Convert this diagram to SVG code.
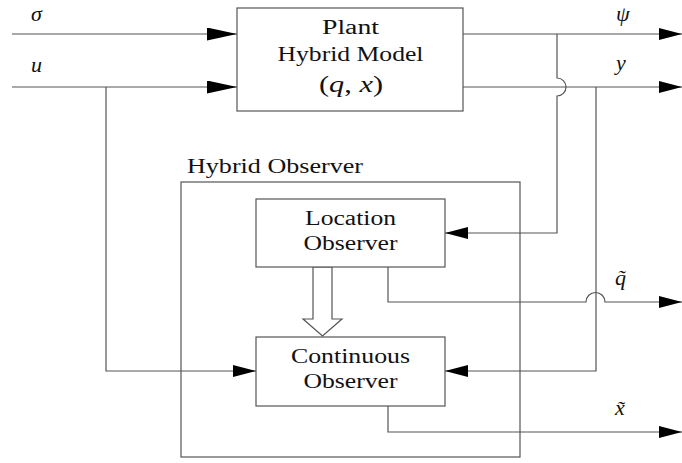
<svg xmlns="http://www.w3.org/2000/svg" width="682" height="463" viewBox="0 0 682 463">
<style>
.box{fill:#fff;stroke:#555;stroke-width:1.2}
.ln{fill:none;stroke:#555;stroke-width:1.2}
.t{font-family:"Liberation Serif","Times New Roman",serif;font-size:20px;fill:#111}
.m{font-family:"Liberation Serif","Times New Roman",serif;font-size:22px;font-style:italic;fill:#111}
</style>
<defs>
<marker id="ah" markerUnits="userSpaceOnUse" markerWidth="24" markerHeight="13" refX="23" refY="6" orient="auto">
<path d="M0,0 L23,6 L0,12 z" fill="#000"/>
</marker>
<marker id="ahb" markerUnits="userSpaceOnUse" markerWidth="31" markerHeight="14" refX="30" refY="6.5" orient="auto">
<path d="M0,0 L30,6.5 L0,13 z" fill="#000"/>
</marker>
</defs>
<rect width="682" height="463" fill="#fff"/>
<g id="connectors">
<path class="ln" d="M12,34 H237" marker-end="url(#ahb)"/>
<path class="ln" d="M12,87 H237" marker-end="url(#ahb)"/>
<path class="ln" d="M106,87 V371 H256" marker-end="url(#ah)"/>
<path class="ln" d="M463,34 H682" marker-end="url(#ah)"/>
<path class="ln" d="M463,87 H682" marker-end="url(#ah)"/>
<path class="ln" d="M557,34 V78 A9,9 0 0 1 557,96 V233 H445" marker-end="url(#ah)"/>
<path class="ln" d="M596,87 V371 H445" marker-end="url(#ah)"/>
<path class="ln" d="M388,267 V302 H586 A9.5,9.5 0 0 1 605,302 H682" marker-end="url(#ah)"/>
<path class="ln" d="M388,406 V432 H682" marker-end="url(#ah)"/>
<polygon class="box" points="313,267 313,319 303,319 322.5,336 342,319 332,319 332,267"/>
</g>
<g id="labels">
<text class="m" x="31" y="21">σ</text>
<text class="m" x="31" y="72">u</text>
<text class="m" x="616" y="21">ψ</text>
<text class="m" x="616" y="70">y</text>
<text class="m" x="615" y="285">q̃</text>
<text class="m" x="615" y="415">x̃</text>
</g>
<g id="plant">
<rect class="box" x="237" y="8" width="226" height="103"/>
<text class="t" x="350.5" y="34" text-anchor="middle" textLength="57" lengthAdjust="spacingAndGlyphs">Plant</text>
<text class="t" x="350.5" y="61" text-anchor="middle" textLength="146" lengthAdjust="spacingAndGlyphs">Hybrid Model</text>
<text class="t" x="351" y="92" text-anchor="middle" style="font-size:24px" textLength="64" lengthAdjust="spacingAndGlyphs">(<tspan font-style="italic">q</tspan>, <tspan font-style="italic">x</tspan>)</text>
</g>
<g id="hybrid-observer">
<rect class="box" x="181" y="182" width="339" height="275" style="fill:none"/>
<text class="t" x="187" y="173" textLength="176" lengthAdjust="spacingAndGlyphs">Hybrid Observer</text>
</g>
<g id="location-observer">
<rect class="box" x="256" y="199" width="189" height="68"/>
<text class="t" x="350.5" y="225" text-anchor="middle" textLength="91" lengthAdjust="spacingAndGlyphs">Location</text>
<text class="t" x="350.5" y="250" text-anchor="middle" textLength="94" lengthAdjust="spacingAndGlyphs">Observer</text>
</g>
<g id="continuous-observer">
<rect class="box" x="256" y="337" width="189" height="69"/>
<text class="t" x="350.5" y="363" text-anchor="middle" textLength="119" lengthAdjust="spacingAndGlyphs">Continuous</text>
<text class="t" x="350.5" y="388" text-anchor="middle" textLength="94" lengthAdjust="spacingAndGlyphs">Observer</text>
</g>
</svg>
